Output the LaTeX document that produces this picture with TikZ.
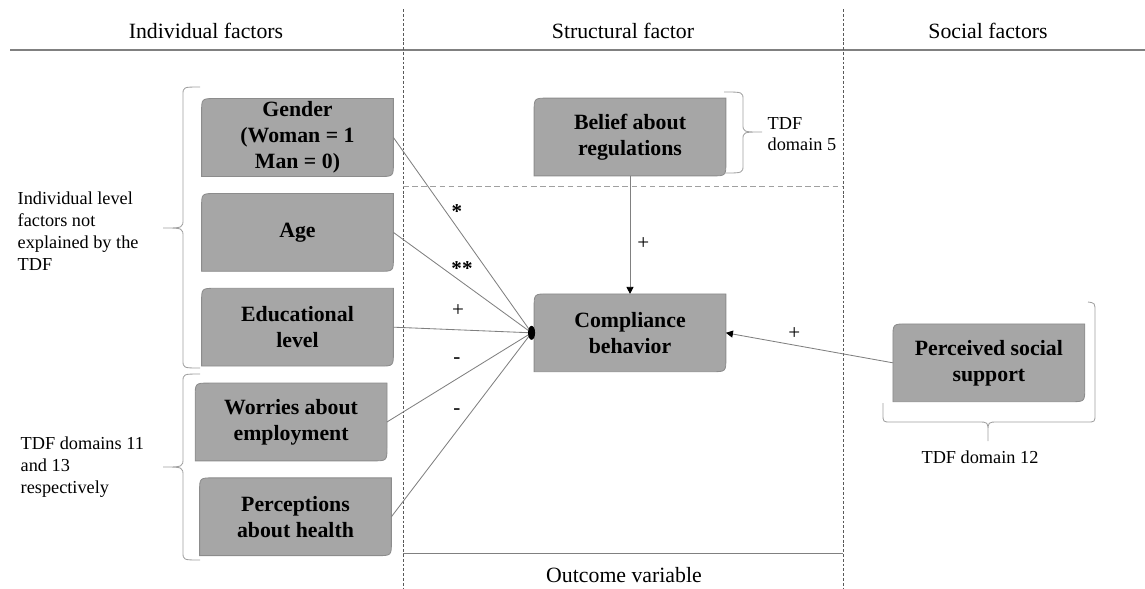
\documentclass[tikz,border=0pt]{standalone}
\usepackage{fontspec}
\setmainfont{Liberation Serif}
\usepackage{tikz}
\usetikzlibrary{arrows.meta,positioning,backgrounds}
\definecolor{boxfill}{HTML}{A6A6A6}
\definecolor{boxedge}{HTML}{8C8C8C}
\definecolor{gy50}{HTML}{808080}
\definecolor{gy35}{HTML}{595959}
\definecolor{gy60}{HTML}{A0A0A0}
\tikzset{
  factorbox/.style={
    rectangle, minimum width=4.78cm, minimum height=1.93cm,
    font=\fontsize{15.5}{18.5}\selectfont\bfseries, align=center,
    inner sep=2pt
  },
  link/.style={draw=gy50, line width=0.6pt},
  arrowlink/.style={link, -{Triangle[length=5pt, width=5pt, color=black]}},
  colsep/.style={draw=gy35, line width=0.7pt, dash pattern=on 2pt off 1.4pt},
  rowsep/.style={draw=gy60, line width=0.7pt, dash pattern=on 4pt off 2.5pt},
  headrule/.style={draw=gy50, line width=0.9pt},
  bracket/.style={draw=gy60, line width=0.6pt},
  headtext/.style={font=\fontsize{15.5}{18.5}\selectfont},
  notetext/.style={font=\fontsize{13}{15.5}\selectfont, align=left, inner sep=1pt},
  signtext/.style={font=\fontsize{15}{18}\selectfont, inner sep=0pt},
}

\begin{document}
\begin{tikzpicture}[x=0.025cm, y=-0.025cm, node distance=0.425cm]
\useasboundingbox (0,0) rectangle (1145,588);

% columns
\node[headtext] (hindiv) at (206,31) {Individual factors};
\node[headtext] (hstruct) at (623,31) {Structural factor};
\node[headtext] (hsocial) at (988,31) {Social factors};
\node[headtext] (houtcome) at (624,575) {Outcome variable};
\draw[headrule] (10,50) -- (1145,50);
\draw[colsep] (403,9) -- (403,588);
\draw[colsep] (843,9) -- (843,588);
\draw[rowsep] (403,186) -- (843,186);
\draw[headrule, line width=0.7pt] (403,553) -- (843,553);

\node[factorbox] (gender) at (297.5,137.5) {Gender\\(Woman = 1\\Man = 0)};
\node[factorbox, below=of gender] (age) {Age};
\node[factorbox, below=of age] (edu) {Educational\\level};
\node[factorbox, below=of edu, xshift=-0.16cm] (worry) {Worries about\\employment};
\node[factorbox, below=of worry, xshift=0.11cm] (health) {Perceptions\\about health};
\node[factorbox] (belief) at (630,137) {Belief about\\regulations};
\node[factorbox, below=2.95cm of belief] (comply) {Compliance\\behavior};
\node[factorbox, right=4.175cm of comply, yshift=-0.75cm] (support) {Perceived social\\support};

% boxes with two rounded corners
\begin{scope}[on background layer]
\foreach \n in {gender,age,edu,worry,health,belief,comply,support}
  \draw[draw=boxedge, fill=boxfill, line width=0.6pt] (\n.south west)
    -- ([yshift=-10pt]\n.north west) .. controls (\n.north west) .. ([xshift=10pt]\n.north west)
    -- (\n.north east) -- ([yshift=10pt]\n.south east)
    .. controls (\n.south east) .. ([xshift=-10pt]\n.south east) -- cycle;
\end{scope}

\coordinate (hub) at ([xshift=-1.8pt]comply.west);
\foreach \n in {gender,age,edu,worry,health}
  \draw[link] (\n.east) -- (hub);
\fill (hub) ellipse [x radius=3.5, y radius=7];
\draw[arrowlink] (belief) -- (comply) node[pos=0.57, right=5pt, signtext] (sbelief) {+};
\draw[arrowlink] (support.west) -- (comply.east) node[pos=0.59, above=4pt, signtext] (ssupport) {+};

\node[signtext] (sgender) at (457,212) {\bfseries *};
\node[signtext] (sage) at (462,269) {\bfseries **};
\node[signtext] (sedu) at (458,311) {+};
\node[signtext] (sworry) at (457,361) {-};
\node[signtext] (shealth) at (457,412) {-};

% braces and notes
\draw[bracket] (200,87) .. controls (183,87) .. (183,95) -- (183,219)
  .. controls (183,228) .. (163,228) .. controls (183,228) .. (183,237)
  -- (183,360) .. controls (183,368) .. (200,368);
\draw[bracket] (200,374) .. controls (183,374) .. (183,382) -- (183,458)
  .. controls (183,467) .. (163,467) .. controls (183,467) .. (183,476)
  -- (183,552) .. controls (183,560) .. (200,560);
\draw[bracket] (724,92) .. controls (743,92) .. (743,100) -- (743,124)
  .. controls (743,132) .. (762,132) .. controls (743,132) .. (743,140)
  -- (743,165) .. controls (743,173) .. (724,173);
\draw[bracket] (883,403) -- (883,414) .. controls (883,422) .. (891,422) -- (978,422)
  .. controls (988,422) .. (988,432) -- (988,441) -- (988,432)
  .. controls (988,422) .. (998,422) -- (1087,422) .. controls (1095,422) .. (1095,414)
  -- (1095,312) .. controls (1095,303) .. (1088,302);

\node[notetext, anchor=west] (indivnote) at (16,231) {Individual level\\factors not\\explained by the\\TDF};
\node[notetext, anchor=west] (tdfnote) at (19,467) {TDF domains 11\\and 13\\respectively};
\node[notetext, anchor=west] (beliefnote) at (766,134) {TDF\\domain 5};
\node[notetext] (supportnote) at (980,457) {TDF domain 12};
\end{tikzpicture}
\end{document}
